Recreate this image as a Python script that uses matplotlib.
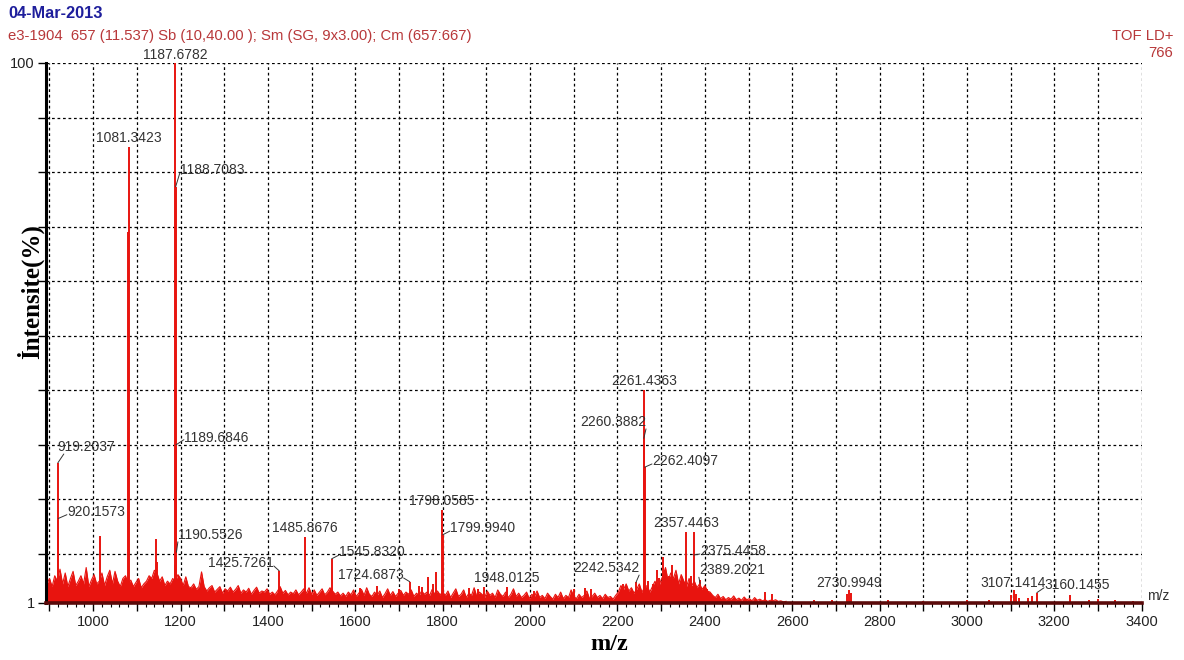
import numpy as np
import matplotlib

matplotlib.use("Agg")
import matplotlib.pyplot as plt
from matplotlib.ticker import FixedLocator, FuncFormatter, MultipleLocator

SANS = ["Liberation Sans", "DejaVu Sans"]
SERIF = ["Liberation Serif", "DejaVu Serif"]
RED = "#E8140F"
DARK_TXT = "#333333"

# --- etiketli tepeler (m/z, %)
peak_mz = [919.2037, 920.1573, 1081.3423, 1187.6782, 1188.7083, 1189.6846, 1190.5526,
           1425.7261, 1485.8676, 1545.8320, 1724.6873, 1798.0585, 1799.9940, 1948.0125,
           2242.5342, 2260.3882, 2261.4363, 2262.4097, 2357.4463, 2375.4458, 2389.2021,
           2730.9949, 3107.1414, 3160.1455]
peak_int = [26.7, 16.5, 84.6, 100.0, 77.3, 30.0, 10.3,
            6.9, 13.1, 9.1, 4.9, 18.0, 13.5, 4.0,
            4.8, 31.2, 40.0, 25.9, 14.0, 14.0, 5.3,
            3.4, 3.4, 2.9]

# --- etiketsiz küçük tepeler
minor_mz = [1015.5, 1080.3, 1143.0, 1145.5, 1186.6, 1767.0, 1777.0, 1784.0, 1745.0,
            1752.0, 1610.0, 1650.0, 1700.0, 1860.0, 1880.0, 1895.0, 2010.0, 2100.0,
            2125.0, 2140.0, 2213.0, 2220.0, 2270.0, 2282.0, 2290.0, 2296.0, 2305.0,
            2310.0, 2318.0, 2324.0, 2335.0, 2350.0, 2369.0, 2398.0, 2405.0, 2538.0,
            2553.0, 2650.0, 2690.0, 2725.0, 2735.0, 2820.0, 2900.0, 3000.0, 3050.0,
            3100.0, 3112.0, 3120.0, 3140.0, 3150.0, 3236.0, 3280.0, 3300.0, 3340.0,
            3380.0]
minor_int = [13.2, 69.0, 12.7, 8.5, 8.0, 5.8, 4.5, 6.7, 4.2,
             4.0, 3.8, 4.2, 3.5, 3.8, 3.6, 4.0, 3.2, 3.5,
             3.8, 3.5, 4.5, 4.2, 5.0, 4.5, 7.0, 5.5, 9.5,
             7.0, 6.0, 8.0, 5.5, 5.0, 6.0, 4.0, 3.5, 3.0,
             2.7, 1.6, 1.5, 2.6, 2.8, 1.5, 1.4, 1.5, 1.6,
             2.4, 2.6, 2.0, 2.0, 2.2, 2.5, 1.6, 1.8, 1.5,
             1.4]

# --- gürültü profili, 894'ten itibaren 6 m/z aralıklarla
noise_start = 894
noise_step = 6
noise_int = [
    4.5, 5.5, 4.0, 6.0, 5.0, 7.2, 4.5, 6.5, 4.0, 5.5, 6.8, 4.2, 5.0, 6.0, 4.5, 7.5, 4.0, 5.2, 6.2, 4.5,
    5.0, 6.5, 4.2, 5.8, 7.0, 4.5, 6.8, 5.0, 4.0, 5.5, 6.0, 4.5, 5.2, 4.0, 4.8, 5.5, 3.8, 4.5, 5.0, 6.0,
    5.5, 7.0, 6.5, 5.0, 5.8, 4.2, 5.0, 4.5, 5.5, 5.0, 6.2, 5.5, 4.2, 5.8, 4.0, 3.8, 4.5, 3.5, 4.0, 6.7,
    4.0, 3.2, 3.8, 4.2, 3.0, 3.5, 4.0, 2.8, 3.6, 3.2, 3.9, 3.0, 3.5, 4.2, 2.8, 3.4, 3.0, 3.7, 2.6, 3.3,
    3.9, 2.8, 3.2, 3.0, 3.6, 2.6, 3.0, 2.5, 3.2, 4.0, 2.8, 3.3, 2.5, 3.0, 2.7, 3.4, 2.5, 3.0, 3.6, 2.8,
    3.8, 2.6, 3.4, 2.4, 3.0, 3.6, 2.5, 3.0, 3.8, 3.2, 2.6, 3.0, 2.3, 2.8, 2.2, 3.0, 2.5, 3.4, 2.2, 2.8,
    3.5, 2.4, 3.8, 2.6, 2.2, 3.0, 2.4, 3.2, 2.0, 2.7, 3.6, 2.4, 3.1, 2.2, 2.8, 3.3, 2.4, 3.0, 2.6, 3.4,
    2.2, 2.8, 2.4, 3.2, 2.6, 3.0, 2.4, 3.5, 2.6, 3.2, 2.5, 3.0,
    2.4, 3.2, 2.0, 2.8, 3.6, 2.2, 2.6, 3.4, 2.0, 2.8, 2.4, 3.8, 2.2, 3.0, 2.6, 2.0, 3.2, 2.4, 2.8, 2.0,
    3.4, 2.6, 2.2, 3.0, 2.0, 2.6, 3.6, 2.2, 2.8, 2.0, 2.4, 3.0, 1.8, 2.6, 2.2, 3.2, 2.0, 2.4, 1.8, 2.8,
    2.2, 1.7, 2.6, 2.0, 3.0, 1.8, 2.4, 2.0, 3.4, 2.2, 1.8, 2.6, 2.0, 2.4, 3.2, 1.8, 2.2, 2.8, 2.0, 2.4,
    1.8, 2.6, 2.0, 2.2, 1.7, 2.4,
    3.0, 4.2, 3.5, 4.5, 3.2, 3.8, 2.8, 3.5, 4.5, 3.0, 3.8, 4.2, 3.0, 4.0, 5.0, 3.5, 4.8, 6.0, 7.5, 5.0,
    6.5, 5.5, 7.0, 4.5, 6.2, 5.0, 4.0, 5.5, 4.2, 5.0, 3.8, 4.5, 3.5, 4.2, 3.2, 3.0,
    2.4, 2.0, 2.6, 1.8, 2.2, 1.6, 2.0, 1.7, 2.3, 1.6, 1.9, 1.5, 2.1, 1.6, 1.8, 1.4, 2.0, 1.5, 1.7, 1.4,
    1.6, 1.3, 1.5, 1.4, 1.6, 1.3, 1.4, 1.2, 1.3,
]

# etiket konumları (m/z, %) ve hizalama
label_xy = [(916.9, 29.6), (939.8, 17.7), (1080.6, 86.2), (1187.5, 101.5), (1198.5, 80.4),
            (1207.6, 31.2), (1193.9, 13.5), (1263.0, 8.3), (1484.6, 14.7), (1562.5, 10.3),
            (1560.0, 6.1), (1798.5, 19.7), (1816.5, 14.7), (1947.0, 5.6), (2098.0, 7.4),
            (2114.0, 34.2), (2260.7, 41.7), (2279.0, 27.0), (2356.8, 15.7), (2388.7, 10.5),
            (2386.4, 7.0), (2729.6, 4.7), (3105.1, 4.7), (3176.3, 4.3)]
label_ha = ["left", "left", "center", "center", "left",
            "left", "left", "left", "center", "left",
            "left", "center", "left", "center", "left",
            "left", "center", "left", "center", "left",
            "left", "center", "center", "left"]
# çizgi bağlantısı (metin kutusundaki göreli nokta), None = bağlantı yok
label_rel = [(0.12, 0.0), (0.0, 0.3), None, None, (0.0, 0.3),
             (0.0, 0.4), (0.0, 0.0), (1.0, 0.3), None, (0.0, 0.3),
             (1.0, 0.3), None, (0.0, 0.3), None, (1.0, 0.0),
             (1.0, 0.0), None, (0.0, 0.3), None, (0.0, 0.3),
             (0.0, 0.0), None, None, (0.0, 0.3)]
# bağlantı çizgisinin tepeye değdiği yükseklik (tepenin ucu değilse)
leader_int = {2375.4458: 9.8, 2389.2021: 4.6}

fig = plt.figure(figsize=(11.84, 6.6), dpi=100)
ax = fig.add_axes([46 / 1184, 1 - 603 / 660, (1141.7 - 46) / 1184, (603 - 63) / 660])

noise_mz = noise_start + noise_step * np.arange(len(noise_int))
ax.fill_between(noise_mz, 1, noise_int, color=RED, lw=0, zorder=2)
ax.plot(noise_mz, noise_int, color=RED, lw=0.8, zorder=2)
ax.vlines(minor_mz, 1, minor_int, color=RED, lw=1.4, zorder=3)
ax.vlines(peak_mz, 1, peak_int, color=RED, lw=1.4, zorder=3)

for mz, txt_xy, ha, rel in zip(peak_mz, label_xy, label_ha, label_rel):
    inten = leader_int.get(mz, peak_int[peak_mz.index(mz)])
    kw = {}
    if rel is not None:
        kw["arrowprops"] = dict(arrowstyle="-", lw=0.7, color=DARK_TXT, shrinkA=0, shrinkB=0,
                                relpos=rel, patchA=None)
    ax.annotate(f"{mz:.4f}", xy=(mz, inten), xytext=txt_xy, ha=ha, va="center",
                fontsize=10, family=SANS, color=DARK_TXT, zorder=5, annotation_clip=False, **kw)

ax.set_xlim(892, 3400)
ax.set_ylim(1, 100)
ax.xaxis.set_major_locator(MultipleLocator(100))
ax.xaxis.set_minor_locator(MultipleLocator(20))
ax.xaxis.set_major_formatter(FuncFormatter(lambda v, p: f"{v:.0f}" if v % 200 == 0 else ""))
ax.yaxis.set_major_locator(FixedLocator([1, 10, 20, 30, 40, 50, 60, 70, 80, 90, 100]))
ax.yaxis.set_major_formatter(FuncFormatter(lambda v, p: f"{v:.0f}" if v in (1, 100) else ""))

ax.grid(True, axis="both", color="black", lw=0.9, linestyle=(0, (2.2, 2.2)), zorder=1)
ax.set_axisbelow(True)
for s in ("top", "right"):
    ax.spines[s].set_visible(False)
ax.spines["left"].set_linewidth(2.2)
ax.spines["left"].set_color("black")
ax.spines["bottom"].set_linewidth(2.6)
ax.spines["bottom"].set_color("#5A0A0A")
ax.spines["bottom"].set_zorder(6)
ax.tick_params(axis="x", which="major", length=6, width=1, pad=3, labelsize=10.5, colors="black")
ax.tick_params(axis="x", which="minor", length=3, width=0.8)
ax.tick_params(axis="y", which="major", length=6, width=1, pad=2, labelsize=10.5)
for lab in ax.get_xticklabels() + ax.get_yticklabels():
    lab.set_family(SANS)
    lab.set_color("#222222")

ax.text(1.005, 0.0, "m/z", transform=ax.transAxes, ha="left", va="bottom", fontsize=10,
        family=SANS, color="#333333")

fig.text(8 / 1184, 1 - 13 / 660, "04-Mar-2013", ha="left", va="center", fontsize=11.8,
         weight="bold", family=SANS, color="#1E1E9C")
fig.text(8 / 1184, 1 - 36 / 660, "e3-1904  657 (11.537) Sb (10,40.00 ); Sm (SG, 9x3.00); Cm (657:667)",
         ha="left", va="center", fontsize=10.7, family=SANS, color="#B8383A")
fig.text(1173 / 1184, 1 - 36 / 660, "TOF LD+", ha="right", va="center", fontsize=10.7,
         family=SANS, color="#B8383A")
fig.text(1173 / 1184, 1 - 53 / 660, "766", ha="right", va="center", fontsize=10.7,
         family=SANS, color="#B8383A")

fig.text(30 / 1184, 1 - 292 / 660, "İntensite(%)", rotation=90, ha="center", va="center",
         fontsize=18, weight="bold", family=SERIF, color="black")
fig.text(609 / 1184, 1 - 645 / 660, "m/z", ha="center", va="center", fontsize=17.5,
         weight="bold", family=SERIF, color="black")

fig.savefig("out.png", dpi=100, facecolor="white")
